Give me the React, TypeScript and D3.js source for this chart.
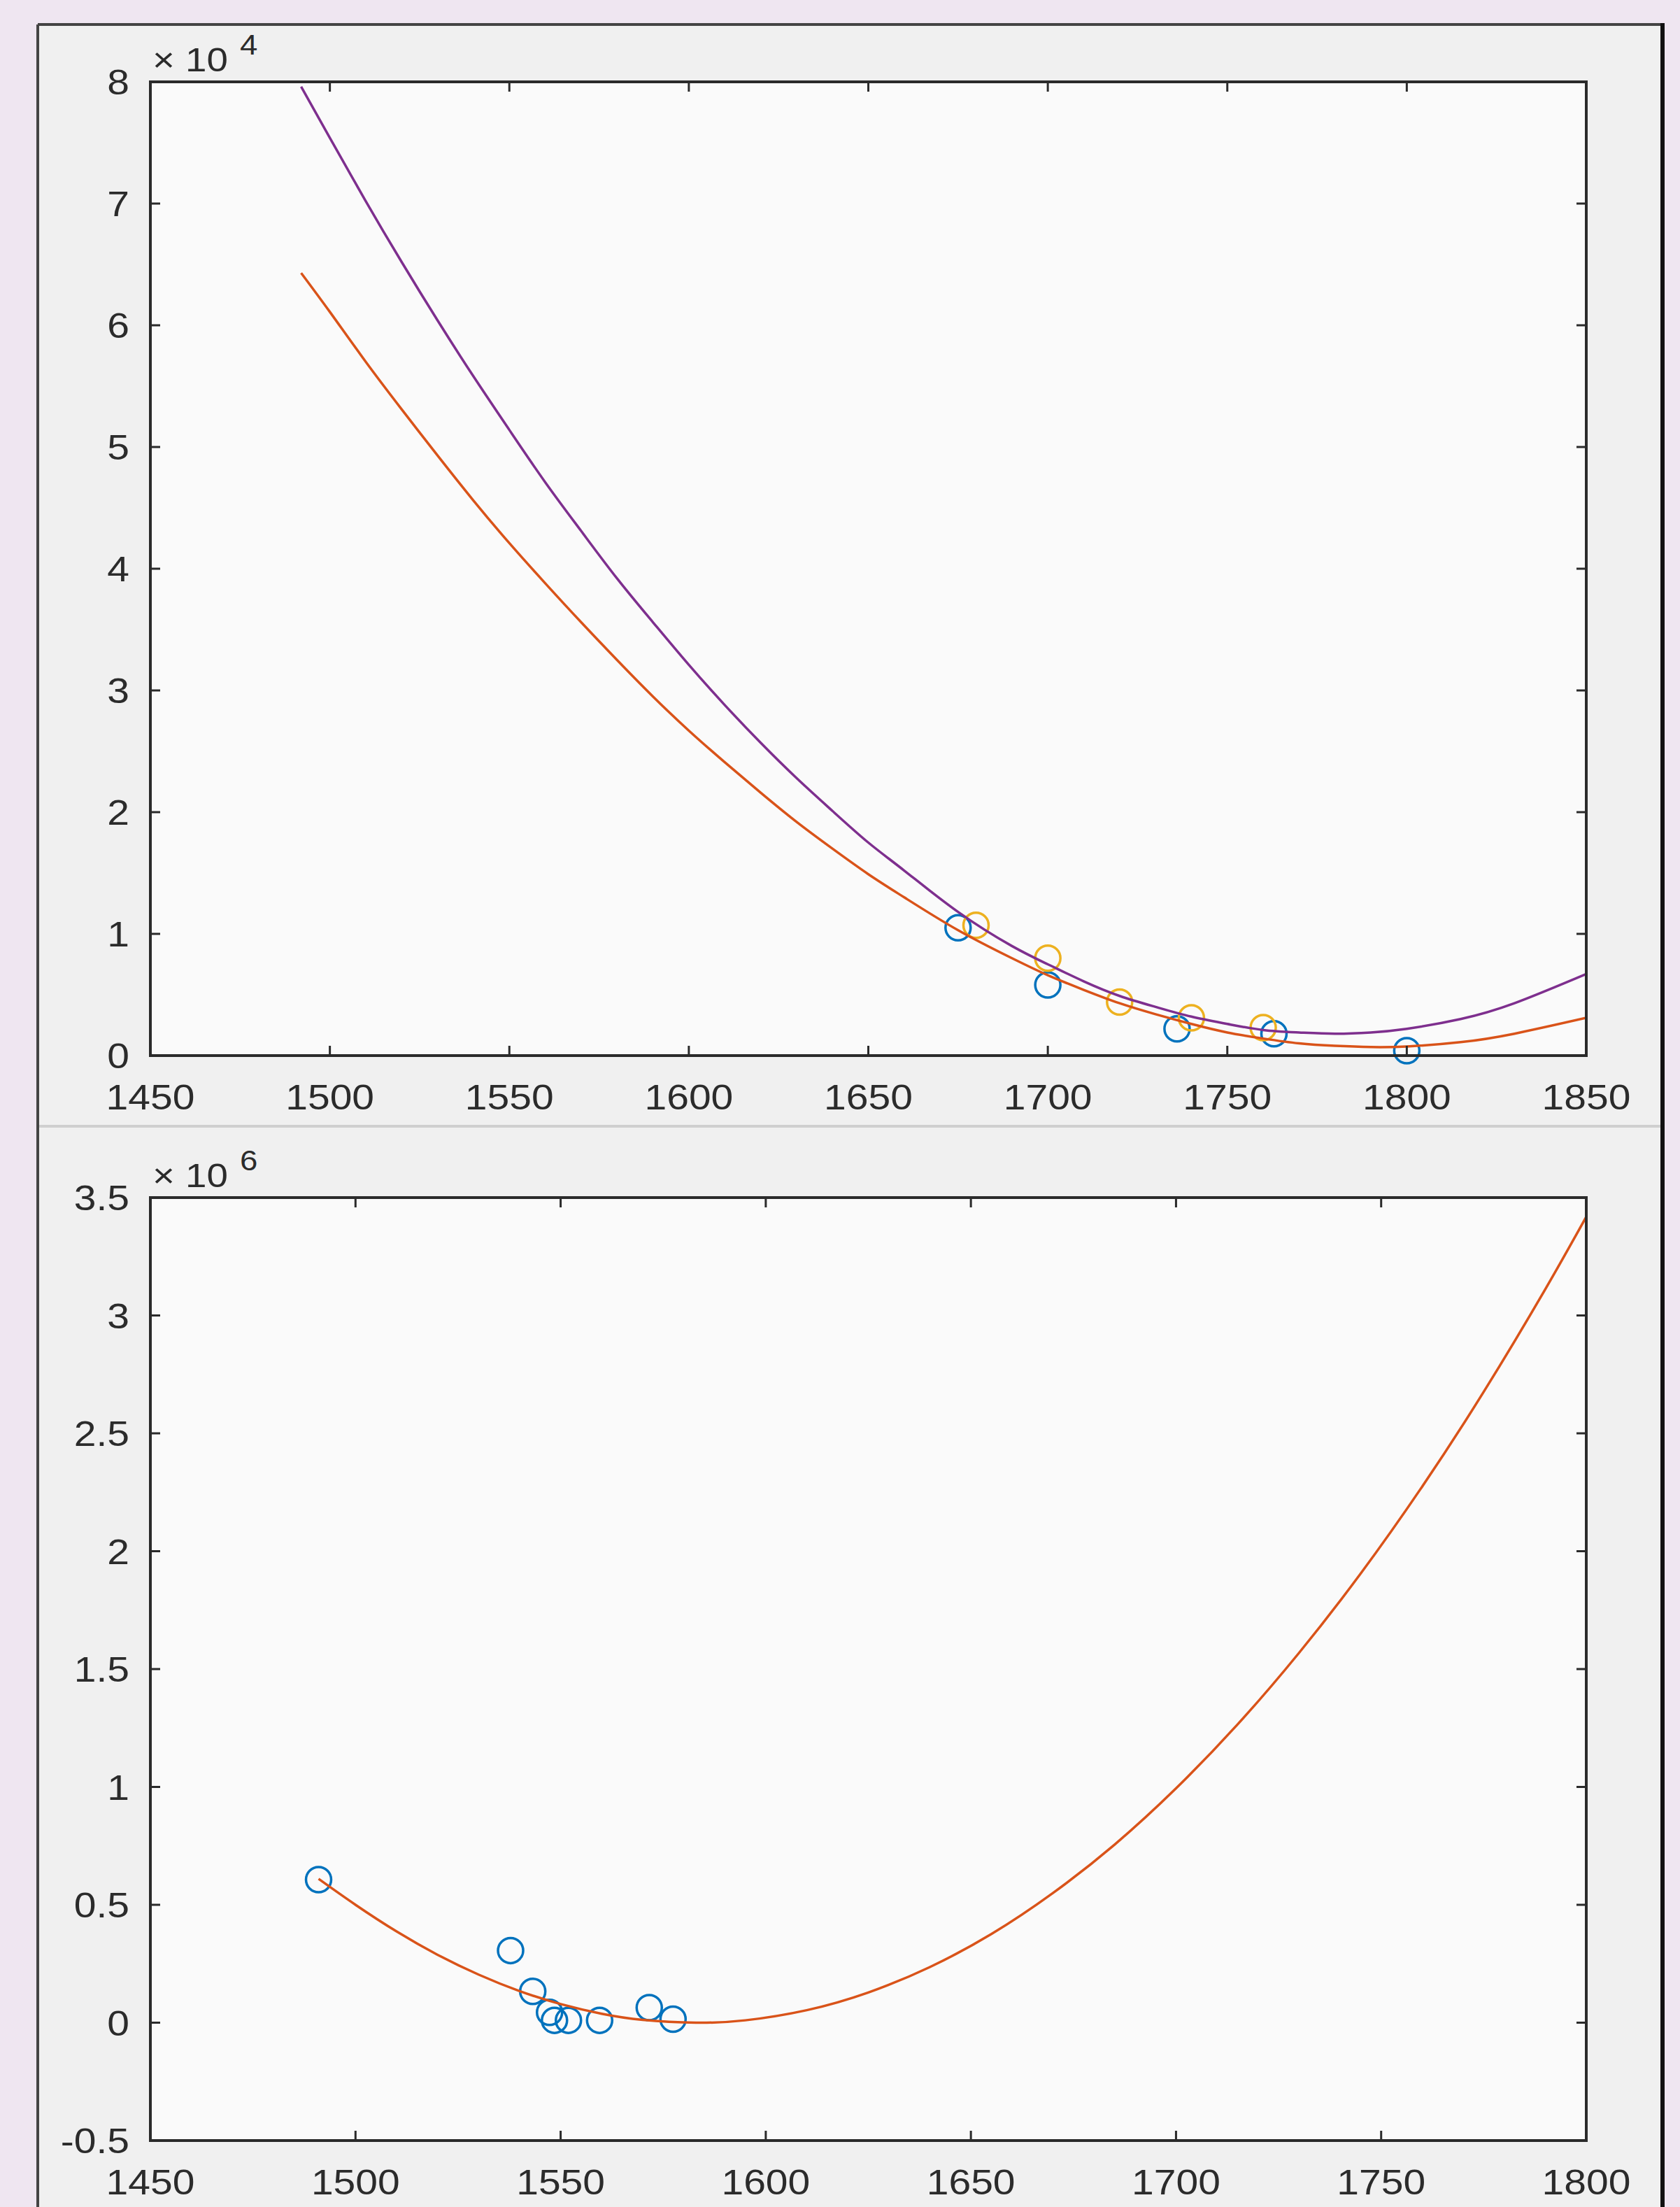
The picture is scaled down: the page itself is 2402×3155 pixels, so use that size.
import React from "react";
import * as d3 from "d3";

// top panel (values in units of 1e4)
const fitYearsTop = [1492, 1500, 1510, 1520, 1530, 1540, 1550, 1560, 1570, 1580, 1590, 1600, 1610, 1620, 1630, 1640, 1650, 1660, 1675, 1690, 1700, 1710, 1720, 1730, 1740, 1750, 1760, 1770, 1780, 1790, 1800, 1815, 1830, 1850];
const purpleFitTop = [7.96, 7.54, 7.02, 6.52, 6.04, 5.58, 5.14, 4.71, 4.31, 3.92, 3.56, 3.21, 2.88, 2.57, 2.28, 2.01, 1.75, 1.52, 1.18, 0.9, 0.75, 0.61, 0.49, 0.4, 0.32, 0.26, 0.21, 0.19, 0.18, 0.19, 0.22, 0.3, 0.43, 0.67];
const orangeFitTop = [6.43, 6.11, 5.7, 5.31, 4.93, 4.56, 4.21, 3.88, 3.56, 3.25, 2.95, 2.67, 2.41, 2.16, 1.92, 1.7, 1.49, 1.3, 1.03, 0.8, 0.66, 0.54, 0.43, 0.34, 0.26, 0.19, 0.14, 0.1, 0.08, 0.07, 0.075, 0.11, 0.18, 0.31];
const blueYearsTop = [1675, 1700, 1736, 1763, 1800];
const blueValsTop = [1.05, 0.58, 0.22, 0.18, 0.04];
const yellowYearsTop = [1680, 1700, 1720, 1740, 1760];
const yellowValsTop = [1.07, 0.8, 0.44, 0.31, 0.23];
const xTicksTop = [1450, 1500, 1550, 1600, 1650, 1700, 1750, 1800, 1850];
const yTicksTop = [0, 1, 2, 3, 4, 5, 6, 7, 8];

// bottom panel (values in units of 1e6)
const fitYearsBottom = [1491, 1500, 1510, 1520, 1530, 1540, 1550, 1560, 1570, 1583, 1595, 1610, 1625, 1640, 1655, 1670, 1685, 1700, 1715, 1730, 1745, 1760, 1775, 1790, 1800];
const orangeFitBottom = [0.61, 0.5, 0.387, 0.288, 0.204, 0.134, 0.079, 0.038, 0.012, 0, 0.01, 0.053, 0.128, 0.236, 0.376, 0.55, 0.755, 0.994, 1.265, 1.569, 1.905, 2.274, 2.676, 3.111, 3.419];
const blueYearsBottom = [1491, 1537.8, 1543.2, 1547.3, 1548.5, 1551.9, 1559.5, 1571.6, 1577.4];
const blueValsBottom = [0.607, 0.306, 0.133, 0.044, 0.01, 0.01, 0.01, 0.064, 0.015];
const xTicksBottom = [1450, 1500, 1550, 1600, 1650, 1700, 1750, 1800];
const yTicksBottom = [-0.5, 0, 0.5, 1, 1.5, 2, 2.5, 3, 3.5];

const BLUE = "#0072BD";
const ORANGE = "#D95319";
const YELLOW = "#EDB120";
const PURPLE = "#7E2F8E";
const INK = "#2b2b2b";
const FONT = "'Liberation Sans', Arial, Helvetica, sans-serif";
const SX = 1.14;

function Label({ x, y, anchor = "middle", size = 50, children }) {
  return (
    <text
      transform={`translate(${x},${y}) scale(${SX},1)`}
      textAnchor={anchor}
      fontSize={size}
      fontFamily={FONT}
      fill={INK}
    >
      {children}
    </text>
  );
}

function Panel({ id, box, xDomain, yDomain, xTicks, yTicks, exp, lines, points }) {
  const { left, right, top, bottom } = box;
  const x = d3.scaleLinear().domain(xDomain).range([left, right]);
  const y = d3.scaleLinear().domain(yDomain).range([bottom, top]);
  const line = d3
    .line()
    .x(d => x(d[0]))
    .y(d => y(d[1]))
    .curve(d3.curveNatural);
  const tick = 14;

  return (
    <g>
      <defs>
        <clipPath id={id}>
          <rect x={left} y={top} width={right - left} height={bottom - top} />
        </clipPath>
      </defs>
      <rect x={left} y={top} width={right - left} height={bottom - top} fill="#fafafa" />

      {/* markers are not clipped, like MATLAB */}
      {points.map((p, i) =>
        p.xs.map((v, j) => (
          <circle
            key={`${i}-${j}`}
            cx={x(v)}
            cy={y(p.ys[j])}
            r={18}
            fill="none"
            stroke={p.color}
            strokeWidth={3.5}
          />
        ))
      )}
      <g clipPath={`url(#${id})`}>
        {lines.map((l, i) => (
          <path
            key={i}
            d={line(l.xs.map((v, j) => [v, l.ys[j]]))}
            fill="none"
            stroke={l.color}
            strokeWidth={3.5}
          />
        ))}
      </g>

      <g stroke={INK} strokeWidth={3}>
        {xTicks.map(t => (
          <g key={t}>
            <line x1={x(t)} x2={x(t)} y1={bottom} y2={bottom - tick} />
            <line x1={x(t)} x2={x(t)} y1={top} y2={top + tick} />
          </g>
        ))}
        {yTicks.map(t => (
          <g key={t}>
            <line x1={left} x2={left + tick} y1={y(t)} y2={y(t)} />
            <line x1={right} x2={right - tick} y1={y(t)} y2={y(t)} />
          </g>
        ))}
      </g>
      <rect
        x={left}
        y={top}
        width={right - left}
        height={bottom - top}
        fill="none"
        stroke={INK}
        strokeWidth={4}
      />

      {xTicks.map(t => (
        <Label key={t} x={x(t)} y={bottom + 77}>
          {String(t)}
        </Label>
      ))}
      {yTicks.map(t => (
        <Label key={t} x={left - 30} y={y(t) + 18} anchor="end">
          {String(t)}
        </Label>
      ))}

      <Label x={left + 3} y={top - 15} anchor="start" size={48}>
        ×
      </Label>
      <Label x={left + 50} y={top - 15} anchor="start" size={48}>
        10
      </Label>
      <Label x={left + 128} y={top - 39} anchor="start" size={40}>
        {exp}
      </Label>
    </g>
  );
}

export default function App() {
  const W = 2402;
  const H = 3155;
  const frame = { left: 54, top: 35, right: 2377 };

  return (
    <svg
      width={W}
      height={H}
      style={{ position: "absolute", left: 0, top: 0, display: "block" }}
    >
      <rect x={0} y={0} width={W} height={H} fill="#efe6f1" />
      <rect
        x={frame.left}
        y={frame.top}
        width={frame.right - frame.left}
        height={H - frame.top}
        fill="#f0f0f0"
      />
      <line x1={frame.left} x2={frame.right} y1={frame.top} y2={frame.top} stroke="#444" strokeWidth={4} />
      <line x1={frame.left} x2={frame.left} y1={frame.top} y2={H} stroke="#444" strokeWidth={4} />
      <line x1={frame.right} x2={frame.right} y1={frame.top - 2} y2={H} stroke="#111" strokeWidth={6} />
      <line x1={frame.left + 2} x2={frame.right - 3} y1={1610} y2={1610} stroke="#cfcfcf" strokeWidth={4} />

      <Panel
        id="clipTop"
        box={{ left: 215, right: 2268, top: 117, bottom: 1509 }}
        xDomain={[1450, 1850]}
        yDomain={[0, 8]}
        xTicks={xTicksTop}
        yTicks={yTicksTop}
        exp="4"
        lines={[
          { xs: fitYearsTop, ys: orangeFitTop, color: ORANGE },
          { xs: fitYearsTop, ys: purpleFitTop, color: PURPLE },
        ]}
        points={[
          { xs: blueYearsTop, ys: blueValsTop, color: BLUE },
          { xs: yellowYearsTop, ys: yellowValsTop, color: YELLOW },
        ]}
      />

      <Panel
        id="clipBottom"
        box={{ left: 215, right: 2268, top: 1712, bottom: 3060 }}
        xDomain={[1450, 1800]}
        yDomain={[-0.5, 3.5]}
        xTicks={xTicksBottom}
        yTicks={yTicksBottom}
        exp="6"
        lines={[{ xs: fitYearsBottom, ys: orangeFitBottom, color: ORANGE }]}
        points={[{ xs: blueYearsBottom, ys: blueValsBottom, color: BLUE }]}
      />
    </svg>
  );
}
